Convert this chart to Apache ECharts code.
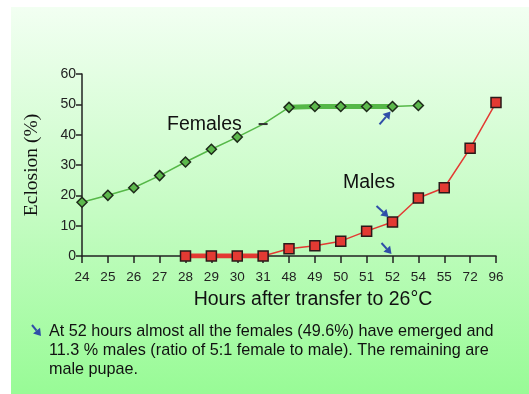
<!DOCTYPE html>
<html><head><meta charset="utf-8">
<script src="https://cdn.jsdelivr.net/npm/echarts@6/dist/echarts.min.js"></script>
<style>html,body{margin:0;padding:0;background:#fff}#c{width:529px;height:394px}</style>
</head><body><div id="c"></div>
<script>
const categories = ['24','25','26','27','28','29','30','31','48','49','50','51','52','54','55','72','96'];
const femaleValues = [17.7, 20.0, 22.5, 26.5, 31.0, 35.2, 39.2, 43.5, 49.0, 49.3, 49.3, 49.3, 49.3, 49.6, null, null, null];
const maleValues = [null, null, null, null, 0, 0, 0, 0, 2.4, 3.4, 4.9, 8.2, 11.2, 19.1, 22.5, 35.5, 50.6];
const yTicks = [0, 10, 20, 30, 40, 50, 60];
const femaleThick = ['48', '52'];
const maleThick = ['28', '31'];
const note = ['At 52 hours almost all the females (49.6%) have emerged and', '11.3 % males (ratio of 5:1 female to male). The remaining are', 'male pupae.'];

const idx = c => categories.indexOf(c);
function segment(vals, range) {
  const a = idx(range[0]), b = idx(range[1]);
  return vals.map((v, i) => (i >= a && i <= b) ? v : null);
}
const femData = femaleValues.map((v, i) => categories[i] === '31' ?
  {value: v, symbol: 'rect', symbolSize: [9, 2], itemStyle: {color: '#333', borderWidth: 0}} : v);

const chart = echarts.init(document.getElementById('c'));
const font = 'Arial, "Liberation Sans", sans-serif';
const option = {
  animation: false,
  grid: {left: 82, right: 33, top: 74, bottom: 138, containLabel: false},
  xAxis: {
    type: 'category', data: categories, boundaryGap: false,
    axisLine: {lineStyle: {color: '#222', width: 1.5}},
    axisTick: {show: true, length: 7, lineStyle: {color: '#222', width: 1.5}, interval: 0},
    axisLabel: {color: '#222', fontSize: 13.5, fontFamily: font, margin: 14, interval: 0},
    name: 'Hours after transfer to 26°C', nameLocation: 'middle', nameGap: 34,
    nameTextStyle: {color: '#111', fontSize: 19.5, fontFamily: font, padding: [0, 0, 0, 48]},
    splitLine: {show: false}
  },
  yAxis: {
    type: 'value', min: 0, max: 60, interval: 10,
    axisLine: {show: true, lineStyle: {color: '#222', width: 1.5}},
    axisTick: {show: true, length: 6, lineStyle: {color: '#222', width: 1.5}},
    axisLabel: {color: '#222', fontSize: 14, fontFamily: font, margin: 6},
    splitLine: {show: false},
    name: 'Eclosion (%)', nameLocation: 'middle', nameGap: 40, nameRotate: 90,
    nameTextStyle: {color: '#111', fontSize: 19.5, fontFamily: '"Liberation Serif", "DejaVu Serif", serif'}
  },
  series: [
    {type: 'line', data: segment(femaleValues, femaleThick), symbol: 'none', z: 2,
     lineStyle: {color: '#56b848', width: 5}, connectNulls: false},
    {type: 'line', data: segment(maleValues, maleThick), symbol: 'none', z: 2,
     lineStyle: {color: '#e33a33', width: 5}, connectNulls: false},
    {type: 'line', name: 'Females', data: femData, symbol: 'diamond', symbolSize: 10, z: 3,
     lineStyle: {color: '#56b848', width: 1.5},
     itemStyle: {color: '#5cb84c', borderColor: '#1e2a1a', borderWidth: 1.5}},
    {type: 'line', name: 'Males', data: maleValues, symbol: 'rect', symbolSize: 10, z: 3,
     lineStyle: {color: '#e33a33', width: 1.5},
     itemStyle: {color: '#e33a33', borderColor: '#2a1a1a', borderWidth: 1.5}}
  ]
};
chart.setOption(option);

const P = (c, v) => chart.convertToPixel({gridIndex: 0}, [idx(c), v]);
function arrow(x1, y1, x2, y2) {
  const ang = Math.atan2(y2 - y1, x2 - x1);
  const h = 7, w = 4.5;
  const bx = x2 - h * Math.cos(ang), by = y2 - h * Math.sin(ang);
  const nx = -Math.sin(ang), ny = Math.cos(ang);
  return [
    {type: 'line', shape: {x1, y1, x2: bx, y2: by}, style: {stroke: '#2f4ea8', lineWidth: 2}, z: 10},
    {type: 'polygon', shape: {points: [[x2, y2], [bx + nx * w, by + ny * w], [bx - nx * w, by - ny * w]]},
     style: {fill: '#2f4ea8'}, z: 10}
  ];
}
const f52 = P('52', femaleValues[idx('52')]);
const m52 = P('52', maleValues[idx('52')]);
const z52 = P('52', 0);
const graphics = [
  {type: 'rect', shape: {x: 11, y: 7, width: 518, height: 387}, z: -10, silent: true,
   style: {fill: new echarts.graphic.LinearGradient(0, 0, 0, 1, [
     {offset: 0, color: '#f2fff2'}, {offset: 0.5, color: '#c8fcc6'}, {offset: 1, color: '#98fb96'}])}},
  {type: 'text', x: 167, y: 125, style: {text: 'Females', fontSize: 19.5, fontFamily: font, fill: '#111', verticalAlign: 'middle'}, z: 10},
  {type: 'text', x: 343, y: 183, style: {text: 'Males', fontSize: 19.5, fontFamily: font, fill: '#111', verticalAlign: 'middle'}, z: 10},
  ...arrow(f52[0] - 13, f52[1] + 18, f52[0] - 2, f52[1] + 5),
  ...arrow(m52[0] - 16, m52[1] - 16, m52[0] - 4, m52[1] - 5),
  ...arrow(z52[0] - 11, z52[1] - 13, z52[0] - 1, z52[1] - 2),
  ...arrow(32, 325, 41, 336),
];
note.forEach((t, i) => graphics.push({type: 'text', x: 49, y: 332 + i * 19,
  style: {text: t, fontSize: 16.2, fontFamily: font, fill: '#111', verticalAlign: 'middle'}, z: 10}));
chart.setOption({graphic: graphics});
</script></body></html>
